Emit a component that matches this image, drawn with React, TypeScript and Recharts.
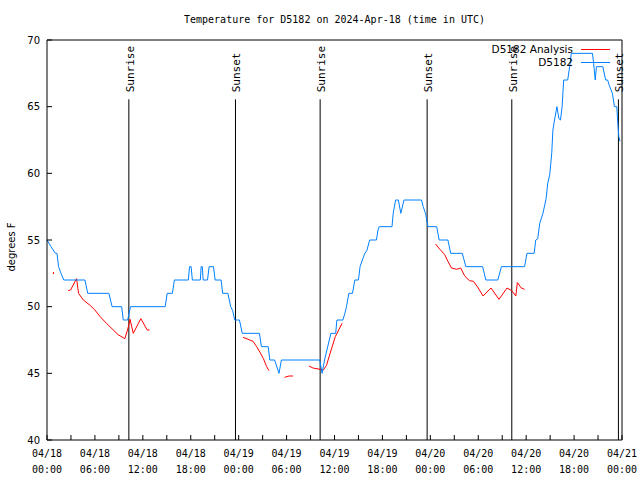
import { LineChart, Line, XAxis, YAxis, ReferenceLine, Legend } from 'recharts';

// hours since 2024-04-18 00:00 UTC
const obsHours = [
  0, 0.5, 1.05, 1.25, 1.45, 1.75, 2.1, 4.75, 5.1, 7.75, 8.15, 9.35, 9.55, 10.1, 10.45, 14.8, 15.05, 15.7,
  15.95, 17.7, 17.85, 18.05, 18.2, 19.2, 19.3, 19.45, 19.55, 20.1, 20.3, 20.85, 21.05, 21.8, 22.0, 22.65,
  23.0, 23.25, 23.5, 24.1, 24.45, 26.6, 26.85, 27.7, 27.9, 28.5, 29.05, 29.35, 34.15, 34.45, 34.75, 35.15,
  35.55, 36.15, 36.3, 37.05, 37.3, 37.5, 37.8, 38.25, 38.55, 39.0, 39.2, 39.55, 39.8, 40.05, 40.4, 41.25,
  41.45, 41.6, 43.2, 43.35, 43.65, 44.0, 44.3, 44.7, 46.9, 47.1, 47.4, 47.7, 48.8, 49.1, 50.2, 50.55, 52.0,
  52.45, 54.55, 54.95, 56.45, 56.9, 59.8, 60.1, 61.0, 61.2, 61.45, 61.7, 62.1, 62.5, 62.7, 62.95, 63.2,
  63.35, 63.55, 63.85, 64.1, 64.3, 64.5, 64.7, 65.2, 65.45, 65.65, 68.3, 68.45, 68.65, 68.8, 69.6, 69.95,
  70.2, 70.4, 70.8, 71.05, 71.35, 71.45, 71.6, 71.75,
];
const obsTemps = [
  55, 54.5, 54, 54, 53, 52.5, 52, 52, 51, 51, 50, 50, 49, 49, 50, 50, 51, 51,
  52, 52, 53, 53, 52, 52, 53, 53, 52, 52, 53, 53, 52, 52, 51, 51,
  50, 49.7, 49, 49, 48, 48, 47, 47, 46, 46, 45, 46, 46, 45, 46, 47,
  48, 48, 49, 49, 49.5, 50, 51, 51, 52, 52, 53, 53.6, 54, 54.2, 55, 55,
  55.75, 56, 56, 57, 58, 58, 57, 58, 58, 57.5, 57, 56, 56, 55, 55, 54, 54,
  53, 53, 52, 52, 53, 53, 54, 54, 55, 55.1, 56.25, 57, 58.1, 59.25, 59.9, 61.5,
  63.25, 64, 65, 64.1, 64, 65, 67, 67, 68, 69, 69, 68.25, 67, 68, 68, 67,
  67, 66.6, 66, 65, 65, 64, 62.75, 62.4,
];

// null = no analysis value (gap)
const anaHours = [
  0.8, 0.82, 1.5, 2.65, 2.95, 3.7, 3.95, 4.55, 5.4, 6.0, 6.65, 7.45, 8.3, 8.9, 9.75, 10.15, 10.4, 10.8,
  11.75, 12.55, 12.85, 18, 24.55, 25.4, 25.8, 26.25, 26.65, 27.1, 27.5, 27.8, 28.8, 29.75, 30.3, 30.8,
  31.8, 32.8, 33.3, 34.2, 34.6, 35.0, 35.5, 36.1, 36.95, 42, 48.65, 49.2, 49.8, 50.2, 50.65, 51.3, 51.8,
  52.3, 52.9, 53.4, 54.0, 54.6, 55.6, 56.6, 57.6, 58.2, 58.7, 58.9, 59.4, 59.8,
];
const anaTemps = [
  52.6, 52.45, null, 51.2, 51.25, 52.1, 51.0, 50.5, 50.1, 49.75, 49.25, 48.75, 48.25, 47.9, 47.6, 48.4, 49.05, 48.0,
  49.1, 48.25, 48.25, null, 47.7, 47.5, 47.4, 47.0, 46.6, 46.1, 45.5, 45.2, null, 44.7, 44.8, 44.8,
  null, 45.55, 45.4, 45.3, 45.25, 45.6, 46.6, 47.75, 48.75, null, 54.7, 54.3, 53.9, 53.4, 52.9, 52.8, 52.9,
  52.3, 51.95, 51.9, 51.4, 50.8, 51.4, 50.55, 51.4, 51.2, 50.8, 51.8, 51.4, 51.3,
];

const eventHours = [10.25, 23.6, 34.2, 47.6, 58.2, 71.55];
const eventLabels = ['Sunrise', 'Sunset', 'Sunrise', 'Sunset', 'Sunrise', 'Sunset'];

const majorHours = [0, 6, 12, 18, 24, 30, 36, 42, 48, 54, 60, 66, 72];
const tickDates = ['04/18', '04/18', '04/18', '04/18', '04/19', '04/19', '04/19', '04/19', '04/20', '04/20', '04/20', '04/20', '04/21'];
const tickTimes = ['00:00', '06:00', '12:00', '18:00', '00:00', '06:00', '12:00', '18:00', '00:00', '06:00', '12:00', '18:00', '00:00'];
const xTicks = [0, 3, 6, 9, 12, 15, 18, 21, 24, 27, 30, 33, 36, 39, 42, 45, 48, 51, 54, 57, 60, 63, 66, 69, 72];
const yTicks = [40, 45, 50, 55, 60, 65, 70];

const seriesNames = ['D5182 Analysis', 'D5182'];
const seriesColors = ['#ff0000', '#0080ff'];
const title = 'Temperature for D5182 on 2024-Apr-18 (time in UTC)';

const MONO = '"DejaVu Sans Mono", monospace';
const SANS = '"DejaVu Sans", sans-serif';

const obsData = obsHours.map((h, i) => ({ h, t: obsTemps[i] }));
const anaData = anaHours.map((h, i) => ({ h, t: anaTemps[i] }));

const XTick = ({ x, y, payload }: any) => {
  const i = majorHours.indexOf(payload.value);
  if (i < 0) return null;
  return (
    <g fontFamily={MONO} fontSize={10} fill="#000">
      <text x={x} y={y} textAnchor="middle">{tickDates[i]}</text>
      <text x={x} y={y + 16} textAnchor="middle">{tickTimes[i]}</text>
    </g>
  );
};

const EventLabel = (text: string) => ({ viewBox }: any) => {
  const x = viewBox.x + 5;
  const y = viewBox.y - 7;
  return (
    <text x={x} y={y} transform={`rotate(-90 ${x} ${y})`} fontFamily={MONO} fontSize={11} fill="#000">
      {text}
    </text>
  );
};

const TitleLabel = ({ viewBox }: any) => (
  <text x={viewBox.x + viewBox.width / 2} y={23} textAnchor="middle" fontFamily={MONO} fontSize={10} fill="#000">
    {title}
  </text>
);

const YLabel = ({ viewBox }: any) => {
  const x = 15;
  const y = viewBox.y + viewBox.height / 2 + 7;
  return (
    <text x={x} y={y} transform={`rotate(-90 ${x} ${y})`} textAnchor="middle" fontFamily={SANS} fontSize={10} fill="#000">
      degrees F
    </text>
  );
};

const LegendBox = () => (
  <div style={{ width: 140, fontFamily: SANS, fontSize: 10.5, color: '#000' }}>
    {seriesNames.map((n, i) => (
      <div key={n} style={{ display: 'flex', justifyContent: 'flex-end', alignItems: 'center', height: 13 }}>
        <span style={{ lineHeight: '13px' }}>{n}</span>
        <span style={{ display: 'inline-block', width: 29, height: 0, borderTop: `1px solid ${seriesColors[i]}`, marginLeft: 8 }} />
      </div>
    ))}
  </div>
);

export default function App() {
  return (
    <div style={{ position: 'absolute', left: 0, top: 0, width: 640, height: 480, background: '#fff' }}>
      <LineChart width={640} height={480} margin={{ top: 0, right: 0, bottom: 0, left: 0 }}>
        <XAxis
          dataKey="h"
          type="number"
          domain={[0, 72]}
          ticks={xTicks}
          interval={0}
          height={40}
          stroke="#000"
          tickSize={-5}
          tickMargin={22}
          tick={<XTick />}
        />
        <XAxis
          xAxisId="top"
          orientation="top"
          dataKey="h"
          type="number"
          domain={[0, 72]}
          ticks={xTicks}
          interval={0}
          height={40}
          stroke="#000"
          tickSize={-5}
          tick={false}
          label={<TitleLabel />}
        />
        <YAxis
          type="number"
          domain={[40, 70]}
          ticks={yTicks}
          interval={0}
          width={47}
          stroke="#000"
          tickSize={-5}
          tickMargin={12}
          tick={{ fontFamily: SANS, fontSize: 10, fill: '#000' }}
          label={<YLabel />}
        />
        <YAxis
          yAxisId="right"
          orientation="right"
          type="number"
          domain={[40, 70]}
          ticks={yTicks}
          interval={0}
          width={18}
          stroke="#000"
          tickSize={-5}
          tick={false}
        />
        {eventHours.map((h, i) => (
          <ReferenceLine
            key={i}
            segment={[{ x: h, y: 40 }, { x: h, y: 65.55 }]}
            stroke="#000"
            strokeWidth={1}
            label={EventLabel(eventLabels[i])}
          />
        ))}
        <Line
          data={anaData}
          dataKey="t"
          name={seriesNames[0]}
          type="linear"
          stroke={seriesColors[0]}
          strokeWidth={1}
          dot={false}
          connectNulls={false}
          isAnimationActive={false}
        />
        <Line
          data={obsData}
          dataKey="t"
          name={seriesNames[1]}
          type="linear"
          stroke={seriesColors[1]}
          strokeWidth={1}
          dot={false}
          isAnimationActive={false}
        />
        <Legend
          layout="vertical"
          align="center"
          verticalAlign="middle"
          wrapperStyle={{ left: 470, top: 43, width: 140 }}
          content={<LegendBox />}
        />
      </LineChart>
    </div>
  );
}
